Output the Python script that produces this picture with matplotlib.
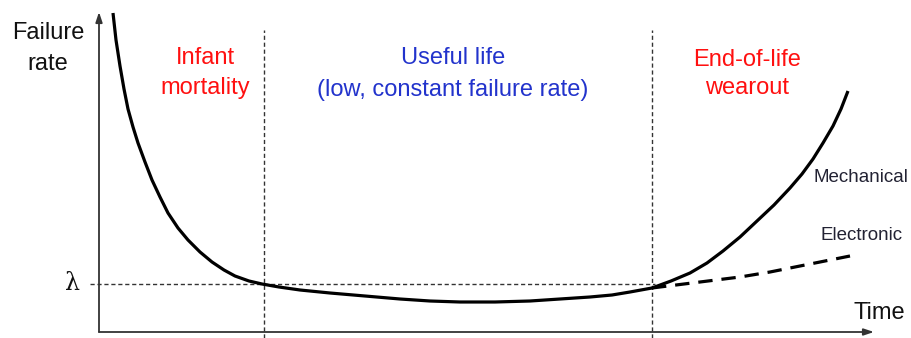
import matplotlib
matplotlib.use("Agg")
import matplotlib.pyplot as plt

plt.rcParams['font.family'] = ['Liberation Sans', 'DejaVu Sans']

# Data (time units, failure-rate units; origin at axis corner)
bath_t = [14, 17, 21, 25, 29, 34, 39, 46, 53, 61, 69, 79, 89, 101, 113, 125, 136, 150, 163,
          180, 201, 231, 266, 301, 331, 361, 396, 431, 461, 491, 513, 531, 553,
          572, 591, 608, 624, 641, 658, 675, 691, 703, 714, 724, 734, 742, 749]
bath_r = [319, 292, 266, 243, 223, 205, 189, 170, 152, 135, 119, 104, 92, 80, 70, 62, 56, 51, 48,
          45, 42, 39, 36, 33, 31, 30, 30, 31, 33, 35, 37, 40, 44,
          51, 59, 69, 81, 95, 111, 127, 144, 158, 173, 189, 206, 223, 241]
elec_t = [553, 601, 641, 671, 701, 726, 751]
elec_r = [44, 50, 55, 60, 66, 71, 76]
lam = 48
t_phase1 = 165
t_phase2 = 553

fig = plt.figure(figsize=(9.12, 3.38), dpi=100)
ax = fig.add_axes([0, 0, 1, 1])
ax.set_xlim(-99, 813)
ax.set_ylim(-6, 332)
ax.axis('off')

axc = '#333333'
# axes arrows
ax.annotate('', xy=(0, 320), xytext=(0, 0),
            arrowprops=dict(arrowstyle='-|>,head_length=0.6,head_width=0.2', color=axc, lw=1.3,
                            shrinkA=0, shrinkB=0))
ax.annotate('', xy=(775, 0), xytext=(0, 0),
            arrowprops=dict(arrowstyle='-|>,head_length=0.6,head_width=0.2', color=axc, lw=1.3,
                            shrinkA=0, shrinkB=0))

# guide lines
ax.plot([-9, t_phase2 + 3], [lam, lam], color=axc, lw=1.0, ls=(0, (3, 2)))
for tp in (t_phase1, t_phase2):
    ax.plot([tp, tp], [-6, 302], color=axc, lw=1.0, ls=(0, (3, 2)))

# curves
ax.plot(bath_t, bath_r, color='black', lw=2.3, solid_capstyle='butt', solid_joinstyle='round')
ax.plot(elec_t, elec_r, color='black', lw=2.3, ls=(0, (4.5, 2.8)))

# text
fs = 17
ax.text(-51, 299, 'Failure', ha='center', va='center', fontsize=fs, color='#111111')
ax.text(-51, 268, 'rate', ha='center', va='center', fontsize=fs, color='#111111')
ax.text(-26, lam, '\u03bb', ha='center', va='center', fontsize=fs, color='#111111',
        family='DejaVu Serif')
ax.text(106, 274, 'Infant', ha='center', va='center', fontsize=fs, color='#ff1010')
ax.text(106, 244, 'mortality', ha='center', va='center', fontsize=fs, color='#ff1010')
ax.text(354, 274, 'Useful life', ha='center', va='center', fontsize=fs, color='#2233cc')
ax.text(354, 242, '(low, constant failure rate)', ha='center', va='center', fontsize=fs,
        color='#2233cc')
ax.text(648, 272, 'End-of-life', ha='center', va='center', fontsize=fs, color='#ff1010')
ax.text(648, 244, 'wearout', ha='center', va='center', fontsize=fs, color='#ff1010')
ax.text(762, 154, 'Mechanical', ha='center', va='center', fontsize=13.5, color='#222233')
ax.text(763, 97, 'Electronic', ha='center', va='center', fontsize=13.5, color='#222233')
ax.text(780, 19, 'Time', ha='center', va='center', fontsize=fs, color='#111111')

fig.savefig('out.png', dpi=100)
